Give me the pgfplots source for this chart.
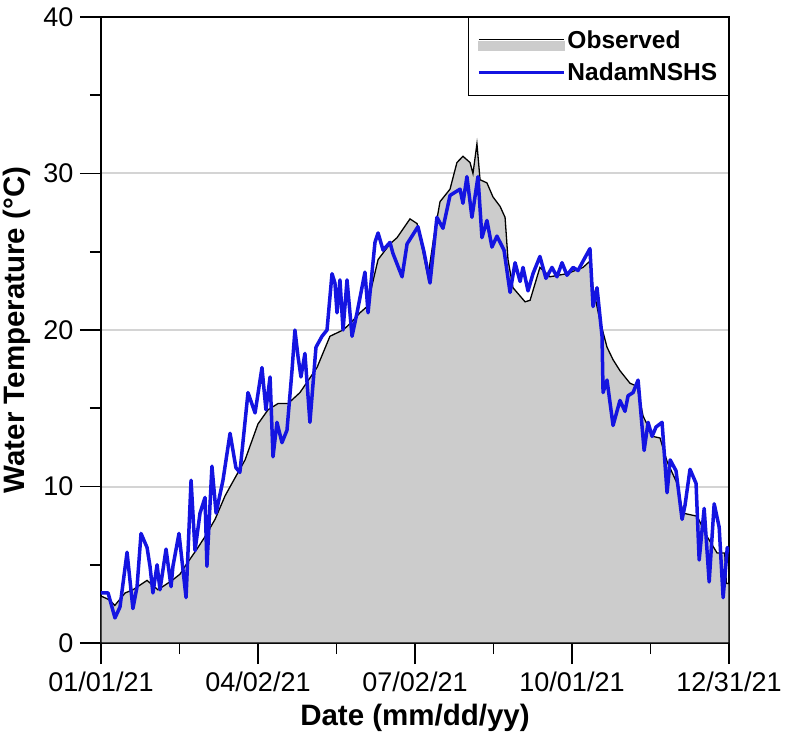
\documentclass[border=0pt]{standalone}
\usepackage{pgfplots}
\pgfplotsset{compat=1.18}
\usepackage{fontspec}
\setmainfont{Liberation Sans}
\definecolor{obsfill}{RGB}{204,204,204}
\definecolor{simblue}{RGB}{20,20,225}
\definecolor{gridgray}{RGB}{212,212,212}
\pgfplotstableread{
day T
0 3.0
5 2.75
8 2.4
14 3.2
18.5 3.4
26.7 4.0
33 3.4
41.2 4.0
45.8 4.4
48.7 4.9
55.6 6.0
60.3 6.8
66.1 7.9
71.9 9.4
75.9 10.2
83.5 11.7
91 14.0
96.8 14.9
102.6 15.3
108.4 15.3
115.3 16.0
125.2 17.6
132.7 19.6
140.3 20.0
144.3 20.4
150.1 21.1
154.2 21.5
160.6 24.5
167.5 25.5
171.6 25.9
179.1 27.1
183.2 26.8
186.6 25.0
189.5 23.4
193 26.0
196.5 28.2
202.3 29.0
206.3 30.7
209.8 31.1
213.9 30.7
215.6 30.0
217.9 31.9
219.7 29.6
223.7 29.4
227.2 28.5
231.3 27.9
234.2 27.2
235.9 24.5
238.8 22.7
245.8 21.8
248.7 21.9
254.4 24.0
260.2 23.4
270.1 23.6
279.4 24.0
283.4 24.4
285.2 22.7
289.2 20.6
293.3 18.9
296.8 18.1
300.8 17.4
306.6 16.6
310.7 16.4
314.2 14.5
319.9 13.2
324 13.1
328.1 11.6
333.9 10.2
337.3 8.3
345.5 8.1
351.3 6.8
357.1 5.75
361.5 5.75
362.5 3.8
364 3.8
}\obs
\pgfplotstableread{
day T
0 3.2
4.1 3.2
8.1 1.6
11 2.3
15.1 5.8
18.5 2.2
20.9 3.6
23.2 7.0
26.7 6.1
28.4 4.9
30.1 3.2
32.5 5.0
34.2 3.4
37.7 6.0
40.6 3.6
41.7 4.9
45.2 7.0
49.3 2.9
52.2 10.4
54.5 5.9
57.4 8.3
60.3 9.3
61.4 4.9
64.3 11.3
66.7 8.3
70.7 10.4
74.8 13.4
78.2 11.2
80.5 10.9
85.2 16.0
89.3 14.7
93.3 17.6
95.6 14.9
98 17.0
99.7 11.9
102 14.1
104.9 12.8
107.8 13.6
110.7 17.4
112.4 20.0
114.2 18.3
115.9 17.0
118.2 18.5
121.1 14.1
124.6 18.9
128.1 19.6
131 20.0
133.9 23.6
135.6 23.0
136.8 21.1
138.5 23.2
140.3 20.0
142.6 23.2
145.5 19.6
148.4 21.1
153 23.7
154.8 21.1
158.8 25.6
160.6 26.2
163.5 25.1
167.5 25.6
169.2 24.9
174.5 23.4
177.4 25.5
183.7 26.6
187.2 25.0
190.7 23.0
194.7 27.2
198.2 26.5
202.3 28.6
208.1 29.0
209.8 28.1
212.1 29.8
215 27.2
218.5 29.8
220.8 25.9
223.7 27.0
226.6 25.3
229.5 26.0
233.6 25.1
237.1 22.4
240 24.3
242.9 23.1
244.6 24.0
247.5 22.5
250.4 23.6
254.4 24.7
257.9 23.3
261.4 24.0
264.3 23.4
267.2 24.3
270.1 23.5
273.6 24.0
276.5 23.8
279.4 24.4
283.4 25.2
285.2 21.5
287.5 22.7
290.4 19.6
291 16.0
293.3 16.8
296.8 13.9
300.8 15.5
303.7 14.8
305.5 15.8
308.4 16.0
311.3 16.8
314.8 12.3
317.1 14.1
319.4 13.2
321.7 13.8
325.2 14.1
328.1 9.6
329.9 11.7
333.3 11.0
336.8 7.9
338.5 8.8
341.4 11.1
344.9 10.2
346.7 5.3
349.6 8.6
352.5 3.9
355.4 8.9
358.3 7.4
360.6 2.9
363 6.1
364 5.8
}\sim
\begin{document}
\begin{tikzpicture}
\begin{axis}[
  width=628pt, height=626pt, scale only axis,
  xmin=0, xmax=364, ymin=0, ymax=40,
  xtick={0,91,182,273,364},
  xticklabels={01/01/21,04/02/21,07/02/21,10/01/21,12/31/21},
  minor xtick={45.5,136.5,227.5,318.5},
  ytick={0,10,20,30,40},
  minor ytick={5,15,25,35},
  xtick pos=bottom, ytick pos=left,
  tick align=outside,
  major tick length=21pt, minor tick length=11pt,
  tick style={black, line width=1.8pt},
  minor tick style={black, line width=1.8pt},
  axis line style={black, line width=1.8pt},
  ymajorgrids, major grid style={gridgray, line width=2pt},
  /pgf/number format/assume math mode=true,
  tick label style={font=\fontsize{27}{30}\selectfont},
  xticklabel style={yshift=-4pt},
  yticklabel style={xshift=-3pt},
  label style={font=\bfseries\fontsize{29.5}{32}\selectfont},
  xlabel={Date (mm/dd/yy)},
  ylabel={Water Temperature (°C)},
  xlabel style={at={(rel axis cs:0.5,0)}, anchor=center, yshift=-75pt},
  ylabel style={at={(rel axis cs:0,0.5)}, anchor=center, yshift=84pt},
  legend style={at={(rel axis cs:1,1)}, anchor=north east, draw=black, line width=1.5pt,
    fill=white, font=\bfseries\fontsize{24.5}{28}\selectfont, inner xsep=9pt, inner ysep=11pt,
    row sep=9pt},
  legend cell align=left,
]
\coordinate (O) at (rel axis cs:0,0);
\addplot[draw=black, line width=1.3pt, fill=obsfill,
  legend image code/.code={
    \fill[obsfill] (0pt,-10pt) rectangle (85pt,-1pt);
    \draw[black, line width=1.5pt] (0pt,1pt) -- (85pt,1pt);}
  ] table[x=day,y=T] {\obs} \closedcycle;
\addplot[simblue, line width=3.5pt, line join=round,
  legend image code/.code={\draw[simblue, line width=3pt] (0pt,0pt) -- (85pt,0pt);}
  ] table[x=day,y=T] {\sim};
\legend{Observed, NadamNSHS}
\end{axis}
\pgfresetboundingbox
\path ([xshift=-101pt,yshift=-101pt]O) rectangle ++(789pt,744pt);
\end{tikzpicture}
\end{document}
